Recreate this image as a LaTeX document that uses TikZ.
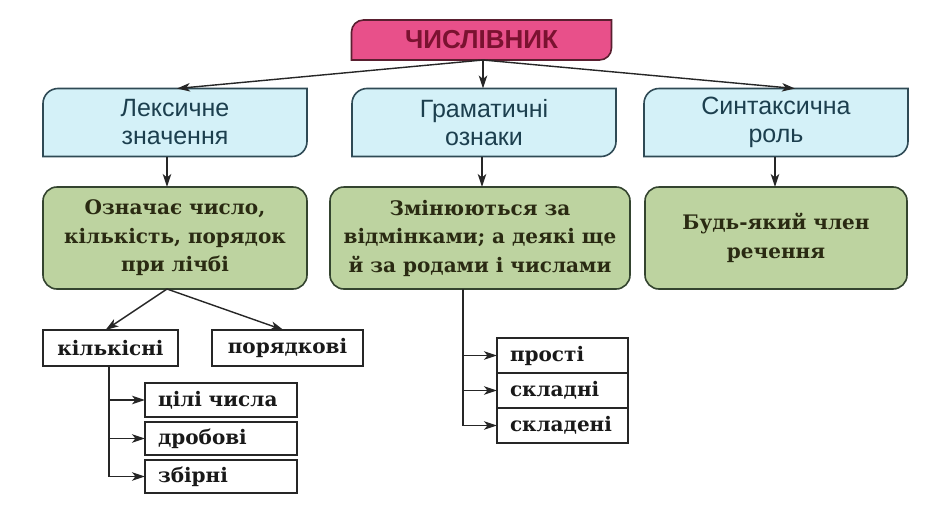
\documentclass[tikz,border=0pt]{standalone}
\usepackage{fontspec}
\setmainfont{DejaVu Serif}
\newfontfamily\sansf{Liberation Sans}
\newfontfamily\seriff{DejaVu Serif}
\usetikzlibrary{arrows.meta,backgrounds}
\definecolor{pinkfill}{HTML}{E8508A}
\definecolor{pinkline}{HTML}{5A1F30}
\definecolor{pinktext}{HTML}{7A1230}
\definecolor{bluefill}{HTML}{D4F1F8}
\definecolor{blueline}{HTML}{2F4A55}
\definecolor{bluetext}{HTML}{1C3F4E}
\definecolor{greenfill}{HTML}{BDD3A0}
\definecolor{greenline}{HTML}{34442F}
\definecolor{greentext}{HTML}{2A2A12}
\newcommand\tabpath[2]{(#1.south west) -- ([yshift=-#2]#1.north west) arc[start angle=180,end angle=90,radius=#2] -- (#1.north east) -- ([yshift=#2]#1.south east) arc[start angle=0,end angle=-90,radius=#2] -- cycle}
\begin{document}
\begin{tikzpicture}[x=1pt,y=1pt,
  tabtxt/.style={inner sep=0pt, outer sep=0pt, font=\sansf\fontsize{25}{28}\selectfont, text=bluetext, align=center, minimum width=264pt, minimum height=68pt},
  tabline/.style={draw=blueline, fill=bluefill, line width=1.6pt},
  greenbox/.style={draw=greenline, fill=greenfill, rounded corners=14pt, line width=1.6pt, inner sep=0pt, outer sep=0pt, font=\seriff\bfseries\fontsize{20}{28.5}\selectfont, text=greentext, align=center, minimum height=102pt},
  smallbox/.style={draw=black!85, line width=1.3pt, inner sep=0pt, outer sep=0pt, font=\seriff\bfseries\fontsize{20}{24}\selectfont, text=black!90},
  subbox/.style={smallbox, align=left, inner xsep=13pt},
  arr/.style={-{Stealth[length=13pt,width=8.5pt,inset=3.5pt]}, line width=1.4pt, draw=black!85},
]
\useasboundingbox (0,0) rectangle (940,-517);

% top
\node[inner sep=0pt, outer sep=0pt, minimum width=260pt, minimum height=40pt, font=\sansf\bfseries\fontsize{26}{28}\selectfont, text=pinktext] (top) at (481.5,-40) {ЧИСЛІВНИК};

% blue tabs
\node[tabtxt] (L) at (175,-122.5) {Лексичне\\значення};
\node[tabtxt] (M) at (484,-122.5) {Граматичні\\ознаки};
\node[tabtxt] (R) at (776,-122.5) {Синтаксична\\роль};

\begin{scope}[on background layer]
  \fill[white] (0,0) rectangle (940,-517);
  \draw[draw=pinkline, fill=pinkfill, line width=1.6pt] \tabpath{top}{12pt};
  \draw[tabline] \tabpath{L}{15pt};
  \draw[tabline] \tabpath{M}{15pt};
  \draw[tabline] \tabpath{R}{15pt};
\end{scope}

% green boxes
\node[greenbox, minimum width=264pt] (LG) at (175,-238) {Означає число,\\кількість, порядок\\при лічбі};
\node[greenbox, minimum width=300pt] (MG) at (480,-238) {Змінюються за\\відмінками; а деякі ще\\й за родами і числами};
\node[greenbox, minimum width=262pt] (RG) at (776,-238) {Будь-який член\\речення};

% small boxes
\node[smallbox, minimum width=135pt, minimum height=36pt] (k) at (110.5,-348) {кількісні};
\node[smallbox, minimum width=151pt, minimum height=36pt] (p) at (287.5,-348) {порядкові};

\node[subbox, text width=126pt, minimum height=34pt] (c1) at (221,-400) {цілі числа};
\node[subbox, text width=126pt, minimum height=33pt] (c2) at (221,-438.5) {дробові};
\node[subbox, text width=126pt, minimum height=33pt] (c3) at (221,-476.5) {збірні};

\node[subbox, text width=105pt, minimum height=35pt] (s1) at (562.5,-355.5) {прості};
\node[subbox, text width=105pt, minimum height=35pt] (s2) at (562.5,-390.5) {складні};
\node[subbox, text width=105pt, minimum height=35pt] (s3) at (562.5,-425.5) {складені};

% connectors from top
\coordinate (tb) at ([xshift=1.5pt]top.south);
\draw[arr] (tb) -- ([xshift=2pt]L.north);
\draw[arr] (tb) -- (tb |- M.north);
\draw[arr] (tb) -- ([xshift=19pt]R.north);

% tabs to green
\draw[arr] ([xshift=-8pt]L.south) -- ([xshift=-8pt]L.south |- LG.north);
\draw[arr] ([xshift=-2pt]M.south) -- ([xshift=-2pt]M.south |- MG.north);
\draw[arr] ([xshift=-1pt]R.south) -- ([xshift=-1pt]R.south |- RG.north);

% green L to kinds
\coordinate (lg) at ([xshift=-8pt]LG.south);
\draw[arr] (lg) -- ([xshift=-5pt]k.north);
\draw[arr] (lg) -- ([xshift=-4pt]p.north);

% kilkisni subdivisions
\coordinate (kx) at ([xshift=-1.5pt]k.south);
\draw[arr] (kx |- c1.west) -- (c1.west);
\draw[arr] (kx |- c2.west) -- (c2.west);
\draw[arr] (kx) |- (c3.west);

% middle subdivisions
\coordinate (mx) at ([xshift=-17pt]MG.south);
\draw[arr] (mx |- s1.west) -- (s1.west);
\draw[arr] (mx |- s2.west) -- (s2.west);
\draw[arr] (mx) |- (s3.west);
\end{tikzpicture}
\end{document}
